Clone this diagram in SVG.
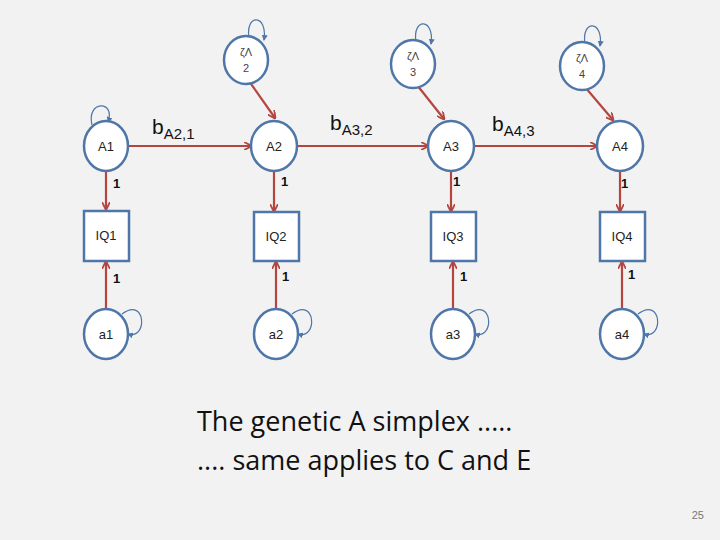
<svg xmlns="http://www.w3.org/2000/svg" width="720" height="540" viewBox="0 0 720 540">
<style>
.n{fill:#fff;stroke:#4f76a8;stroke-width:2.5}
.t{font-family:"Liberation Sans",Arial,sans-serif;font-size:13px;fill:#222;text-anchor:middle}
.z{font-family:"Liberation Sans",Arial,sans-serif;font-size:11px;fill:#444;text-anchor:middle}
.e{stroke:#b5453f;stroke-width:2.2;fill:none;marker-end:url(#ar)}
.l{font-family:"Liberation Sans",Arial,sans-serif;font-size:13px;font-weight:bold;fill:#111}
.b{font-family:"Liberation Sans",Arial,sans-serif;font-size:21px;fill:#111}
.s{stroke:#4f76a8;stroke-width:1.2;fill:none;marker-end:url(#as)}
</style>
<defs>
<marker id="ar" markerWidth="8" markerHeight="8" refX="7" refY="4" orient="auto" markerUnits="userSpaceOnUse"><path d="M0,0 L8,4 L0,8" fill="none" stroke="#b5453f" stroke-width="1.8"/></marker>
<marker id="as" markerWidth="6" markerHeight="6" refX="5" refY="3" orient="auto" markerUnits="userSpaceOnUse"><path d="M0,0 L6,3 L0,6z" fill="#4f76a8"/></marker>
</defs>
<rect width="720" height="540" fill="#f2f2f2"/>
<g id="connectors">
<path class="e" d="M128,146 H251"/>
<path class="e" d="M297,146 H428"/>
<path class="e" d="M474,146 H597"/>
<path class="e" d="M249,81 L275,118"/>
<path class="e" d="M417,85 L444,119"/>
<path class="e" d="M585,87 L613,120"/>
<path class="e" d="M106,171 V209"/>
<path class="e" d="M274,171 V211"/>
<path class="e" d="M451,171 V211"/>
<path class="e" d="M620,171 V211"/>
<path class="e" d="M106,310 V262"/>
<path class="e" d="M276,310 V262"/>
<path class="e" d="M453,310 V262"/>
<path class="e" d="M622,310 V262"/>
<path class="s" d="M92,125 C86,100 116,100 108,122"/>
<path class="s" d="M249,38 C245,13 268,14 264,40"/>
<path class="s" d="M416,42 C412,17 435,18 431,44"/>
<path class="s" d="M585,44 C581,19 604,20 600,46"/>
<path class="s" d="M122,314 C146,296 148,340 128,334"/>
<path class="s" d="M292,314 C316,296 318,340 298,334"/>
<path class="s" d="M469,314 C493,296 495,340 475,334"/>
<path class="s" d="M638,314 C662,296 664,340 644,334"/>
</g>
<text class="b" x="152" y="134">b<tspan font-size="15" dy="5">A2,1</tspan></text>
<text class="b" x="330" y="130">b<tspan font-size="15" dy="5">A3,2</tspan></text>
<text class="b" x="492" y="131">b<tspan font-size="15" dy="5">A4,3</tspan></text>
<text class="l" x="113" y="188">1</text><text class="l" x="281" y="186">1</text><text class="l" x="453" y="186">1</text><text class="l" x="621" y="188">1</text>
<text class="l" x="113" y="283">1</text><text class="l" x="282" y="281">1</text><text class="l" x="460" y="281">1</text><text class="l" x="628" y="279">1</text>
<g id="A1"><ellipse class="n" cx="106" cy="146" rx="22" ry="25"/><text class="t" x="106" y="151">A1</text></g>
<g id="A2"><ellipse class="n" cx="274" cy="146" rx="23" ry="25"/><text class="t" x="274" y="151">A2</text></g>
<g id="A3"><ellipse class="n" cx="451" cy="146" rx="23" ry="25"/><text class="t" x="451" y="151">A3</text></g>
<g id="A4"><ellipse class="n" cx="620" cy="146" rx="23" ry="25"/><text class="t" x="620" y="151">A4</text></g>
<g id="Z2"><ellipse class="n" cx="246" cy="60" rx="22" ry="24"/><text class="z" x="246" y="56">ζΛ</text><text class="z" x="246" y="72">2</text></g>
<g id="Z3"><ellipse class="n" cx="413" cy="64" rx="22" ry="24"/><text class="z" x="413" y="60">ζΛ</text><text class="z" x="413" y="76">3</text></g>
<g id="Z4"><ellipse class="n" cx="582" cy="66" rx="22" ry="24"/><text class="z" x="582" y="62">ζΛ</text><text class="z" x="582" y="78">4</text></g>
<g id="IQ1"><rect class="n" x="84" y="211" width="45" height="50"/><text class="t" x="106" y="240">IQ1</text></g>
<g id="IQ2"><rect class="n" x="254" y="212" width="45" height="49"/><text class="t" x="276" y="241">IQ2</text></g>
<g id="IQ3"><rect class="n" x="431" y="212" width="45" height="49"/><text class="t" x="453" y="241">IQ3</text></g>
<g id="IQ4"><rect class="n" x="600" y="212" width="45" height="49"/><text class="t" x="622" y="241">IQ4</text></g>
<g id="a1"><ellipse class="n" cx="106" cy="334" rx="22" ry="25"/><text class="t" x="106" y="339">a1</text></g>
<g id="a2"><ellipse class="n" cx="276" cy="334" rx="22" ry="25"/><text class="t" x="276" y="339">a2</text></g>
<g id="a3"><ellipse class="n" cx="453" cy="334" rx="22" ry="25"/><text class="t" x="453" y="339">a3</text></g>
<g id="a4"><ellipse class="n" cx="622" cy="334" rx="22" ry="25"/><text class="t" x="622" y="339">a4</text></g>
<text font-family="'Open Sans','Liberation Sans',sans-serif" font-size="27" fill="#111" x="197" y="431">The genetic A simplex .....</text>
<text font-family="'Open Sans','Liberation Sans',sans-serif" font-size="27" fill="#111" x="197" y="470">.... same applies to C and E</text>
<text font-family="'Liberation Sans',sans-serif" font-size="11" fill="#777" x="704" y="519" text-anchor="end">25</text>
</svg>
